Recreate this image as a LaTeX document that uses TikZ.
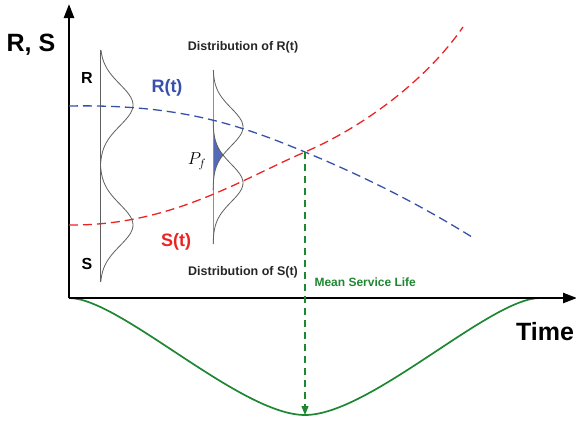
\documentclass[tikz,border=0pt]{standalone}
\usepackage{amsmath}
\usepackage{fontspec}
\setmainfont{Liberation Sans}
\usetikzlibrary{arrows.meta}

\definecolor{rblue}{RGB}{55,80,170}
\definecolor{sred}{RGB}{235,35,35}
\definecolor{lgreen}{RGB}{30,135,50}
\definecolor{pdfgray}{RGB}{95,95,95}

\tikzset{
  axis/.style={line width=2.4pt, -{Triangle[length=14pt,width=10pt]}},
  rcurve/.style={rblue, line width=1.3pt, dash pattern=on 9pt off 5pt},
  scurve/.style={sred, line width=1.3pt, dash pattern=on 9pt off 5pt},
  pdf/.style={pdfgray, line width=0.8pt},
  lbl/.style={font=\bfseries\fontsize{12.5}{14}\selectfont, text=black!85},
}

\begin{document}
\begin{tikzpicture}[x=1pt, y=-1pt]
                    \useasboundingbox (0,0) rectangle (576,423);

                    % points of the axes
                    \coordinate (O) at (69,298);
                    \coordinate (ytip) at (69,4);
                    \coordinate (xtip) at (577,298);
                    \coordinate (cross) at (305,152);
                    \coordinate (minpt) at (305,415);

                    % green life curve below the time axis
                    \draw[lgreen, line width=1.7pt] (O) .. controls (120,298) and (240,415) .. (minpt)
                        .. controls (370,415) and (490,298) .. (540,298);

                    % axes
                    \draw[axis] (O) -- (ytip);
                    \draw[axis] (O) -- (xtip);
                    \node[font=\bfseries\fontsize{25}{28}\selectfont] (rslabel) at (31,45) {R, S};
                    \node[font=\bfseries\fontsize{25}{28}\selectfont] (timelabel) at (545,332) {Time};

                    % distribution at t = 0
                    \draw[pdf] (100,50) -- (100,282);
                    \draw[pdf] plot[smooth, variable=\t, domain=50:165, samples=50] ({100+33*exp(-((\t-105)^2)/856)}, \t);
                    \draw[pdf] plot[smooth, variable=\t, domain=165:282, samples=50] ({100+33*exp(-((\t-225)^2)/856)}, \t);
                    \node[font=\bfseries\fontsize{16}{18}\selectfont] (rlabel) at (87,78) {R};
                    \node[font=\bfseries\fontsize{16}{18}\selectfont] (slabel) at (87,264) {S};

                    % distribution at a later time, overlap shaded
                    \fill[rblue!85] (213,118)
                        -- plot[smooth, variable=\t, domain=118:156, samples=30] ({213+30*exp(-((\t-183)^2)/714)}, \t)
                        -- plot[smooth, variable=\t, domain=156:196, samples=30] ({213+30*exp(-((\t-127)^2)/714)}, \t)
                        -- (213,196) -- cycle;
                    \draw[pdf, pdfgray!70] (213,70) -- (213,244);
                    \draw[pdf] plot[smooth, variable=\t, domain=70:190, samples=60] ({213+30*exp(-((\t-127)^2)/714)}, \t);
                    \draw[pdf] plot[smooth, variable=\t, domain=120:244, samples=60] ({213+30*exp(-((\t-183)^2)/714)}, \t);
                    \node[font=\fontsize{18}{20}\selectfont] (pf) at (197,161) {$P_f$};

                    % resistance and load with time
                    \draw[rcurve] (69,106) .. controls (180,104) and (240,125) .. (cross)
                        .. controls (370,179) and (420,205) .. (472,237);
                    \draw[scurve] (69,225) .. controls (170,226) and (240,180) .. (cross)
                        .. controls (370,124) and (430,75) .. (463,27);
                    \node[font=\bfseries\fontsize{18}{20}\selectfont, text=rblue] (rt) at (167,88) {R(t)};
                    \node[font=\bfseries\fontsize{18}{20}\selectfont, text=sred] (st) at (176,242) {S(t)};
                    \node[lbl] (distr) at (243,47) {Distribution of R(t)};
                    \node[lbl] (dists) at (243,272) {Distribution of S(t)};

                    % mean service life
                    \draw[lgreen, line width=1.2pt, dash pattern=on 7pt off 5pt, -{Triangle[length=9pt,width=7pt]}] (cross) -- (minpt);
                    \node[lbl, text=lgreen, anchor=west, font=\bfseries\fontsize{12}{14}\selectfont] (msl) at (311,282) {Mean Service Life};
                \end{tikzpicture}
\end{document}
